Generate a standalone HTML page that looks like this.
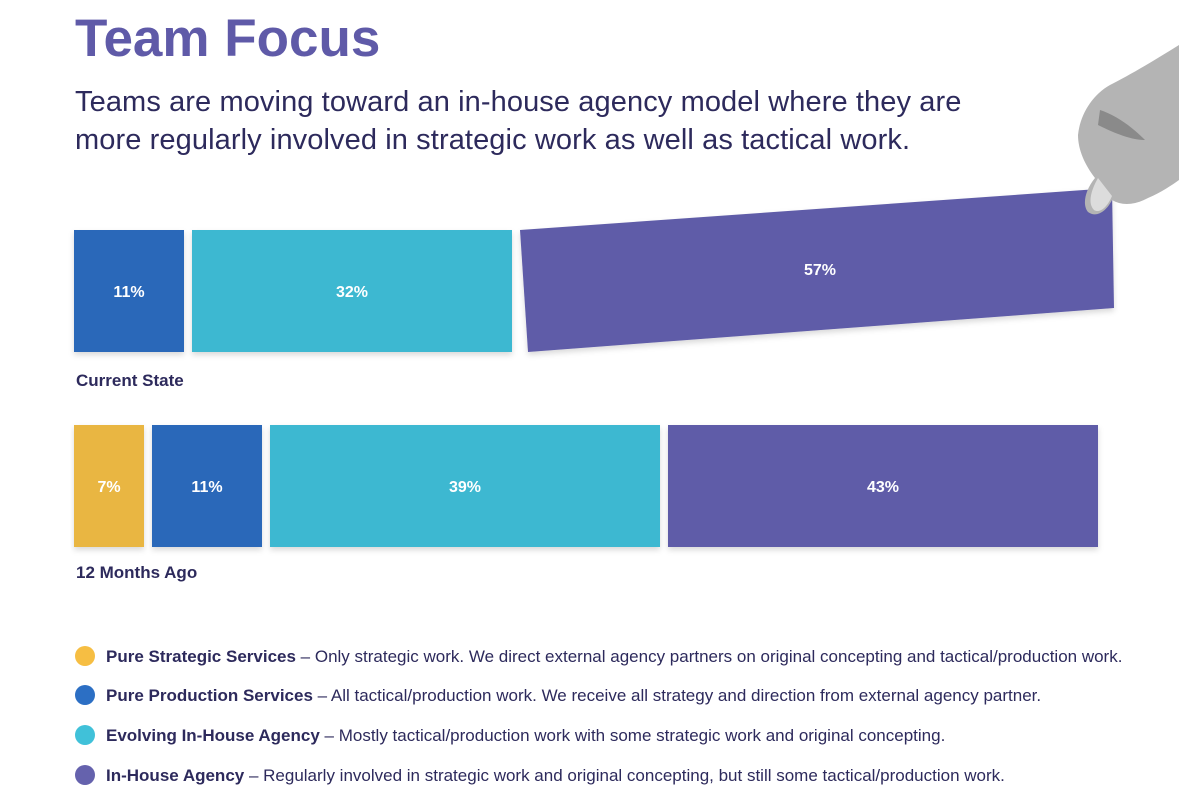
<!DOCTYPE html>
<html><head><meta charset="utf-8"><style>
body{margin:0;width:1179px;height:810px;background:#fff;overflow:hidden;font-family:"Liberation Sans",sans-serif;position:relative}
#title{position:absolute;left:75px;top:8px;font-size:53px;font-weight:bold;color:#5f5aa8;margin:0}
#sub{position:absolute;left:75px;top:83px;font-size:29px;line-height:38px;color:#2d2a5c;width:1050px;letter-spacing:0.1px}
.lbl{position:absolute;left:76px;font-size:17px;font-weight:bold;color:#2d2a5c}
.leg{position:absolute;left:75px;font-size:17px;color:#2d2a5c;height:22px;line-height:22px;letter-spacing:0px;white-space:nowrap}
.leg i{display:inline-block;width:20px;height:20px;border-radius:50%;vertical-align:middle;margin-right:11px;margin-top:-3px}
svg{position:absolute;left:0;top:0}
</style></head><body>
<h1 id="title">Team Focus</h1>
<div id="sub">Teams are moving toward an in-house agency model where they are<br>more regularly involved in strategic work as well as tactical work.</div>
<svg id="chart" width="1179" height="810">
<defs><filter id="sh" x="-5%" y="-10%" width="110%" height="130%"><feDropShadow dx="0" dy="3" stdDeviation="3" flood-color="#000" flood-opacity="0.15"/></filter></defs>
<g id="bars"></g>
<g>
<path d="M1179 45 C1155 60 1130 75 1110 85 C1092 95 1080 115 1078 135 C1078 150 1085 165 1095 178 C1085 190 1082 205 1088 212 C1096 218 1106 212 1112 200 C1122 206 1135 205 1148 198 C1162 192 1172 185 1179 180 Z" fill="#b4b4b4"/>
<path d="M1098 178 C1090 192 1088 204 1094 210 C1100 214 1108 206 1112 196 Z" fill="#dcdcdc"/>
<path d="M1100 110 C1115 115 1130 125 1145 140 C1130 140 1112 132 1098 125 Z" fill="#8a8a8a"/>
</g>
</svg>
<div class="lbl" style="top:371px">Current State</div>
<div class="lbl" style="top:563px">12 Months Ago</div>
<div class="leg" style="top:646px"><i style="background:#f6be43"></i><b>Pure Strategic Services</b> – Only strategic work. We direct external agency partners on original concepting and tactical/production work.</div>
<div class="leg" style="top:685px"><i style="background:#2c6fc4"></i><b>Pure Production Services</b> – All tactical/production work. We receive all strategy and direction from external agency partner.</div>
<div class="leg" style="top:725px"><i style="background:#40c1d9"></i><b>Evolving In-House Agency</b> – Mostly tactical/production work with some strategic work and original concepting.</div>
<div class="leg" style="top:765px"><i style="background:#6562ad"></i><b>In-House Agency</b> – Regularly involved in strategic work and original concepting, but still some tactical/production work.</div>
<script>
const categories=["Pure Strategic Services","Pure Production Services","Evolving In-House Agency","In-House Agency"];
const currentValues=[0,11,32,57];
const pastValues=[7,11,39,43];
const colors=["#e9b642","#2b68b9","#3cb8d1","#5f5ca8"];
const NS="http://www.w3.org/2000/svg";
const g=document.getElementById('bars');
const x0=74,gap=8,k=10.0;
function w(v){return v*k;}
function row(vals,y,h,name,tiltLast){
  let x=x0;
  vals.forEach((v,i)=>{
    if(v<=0)return;
    const ww=w(v);
    const last=tiltLast&&i===vals.length-1;
    let el;
    if(last){
      const ww2=ww+22;
      el=document.createElementNS(NS,'polygon');
      el.setAttribute('points',`${x},${y} ${x+ww2},${y-42} ${x+ww2+2},${y-42+h-2} ${x+8},${y+h}`);
      el.setAttribute('filter','url(#sh)');
    }else{
      el=document.createElementNS(NS,'rect');
      el.setAttribute('x',x);el.setAttribute('y',y);el.setAttribute('width',ww);el.setAttribute('height',h);
      el.setAttribute('filter','url(#sh)');
    }
    el.setAttribute('fill',colors[i]);
    
    
    g.appendChild(el);
    const t=document.createElementNS(NS,'text');
    const cx=last?x+(ww+22)/2+4:x+ww/2;
    const cy=last?y+h/2-16:y+h/2+6;
    t.setAttribute('x',cx);t.setAttribute('y',cy);
    t.setAttribute('text-anchor','middle');t.setAttribute('fill','#fff');
    t.setAttribute('font-size','16');t.setAttribute('font-weight','bold');
    t.setAttribute('font-family','Liberation Sans, sans-serif');
    t.textContent=v+'%';
    
    
    g.appendChild(t);
    x+=ww+gap;
  });
}
row(currentValues,230,122,'current',true);
row(pastValues,425,122,'past',false);
</script>
</body></html>
